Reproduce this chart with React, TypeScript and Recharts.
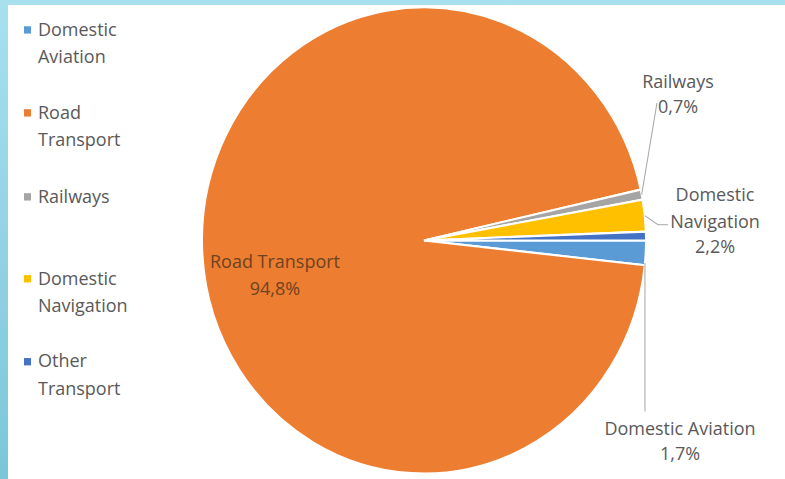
import { PieChart, Pie, Cell, Legend } from "recharts";

// transport emissions split, shares in %
const categories = ["Domestic Aviation", "Road Transport", "Railways", "Domestic Navigation", "Other Transport"];
const shares = [1.7, 94.8, 0.7, 2.2, 0.6];
const colors = ["#5B9BD5", "#ED7D31", "#A5A5A5", "#FFC000", "#4472C4"];

const data = categories.map((name, i) => ({ name, value: shares[i] }));

const FONT = "'Open Sans', sans-serif";
const GREY_TEXT = "#595959";

// label placement relative to the pie centre (Excel-style manual positions)
const labelSpots: Record<string, { dx: number; dy: number[]; split: boolean; leader?: number[][] }> = {
  "Road Transport": { dx: -149, dy: [26, 52], split: false },
  Railways: { dx: 254, dy: [-145, -121], split: false, leader: [[233, -131]] },
  "Domestic Navigation": { dx: 291, dy: [-38, -12, 12], split: true, leader: [[234, -15], [244, -15]] },
  "Domestic Aviation": { dx: 256, dy: [185, 209], split: false, leader: [[0, 163]] },
};

// legend first-line baselines
const legendBaselines = [34, 113, 193, 271, 350];

const RAD = Math.PI / 180;
const pct = (v: number) => v.toFixed(1).replace(".", ",") + "%";

const renderLabel = (props: any) => {
  const { cx, cy, midAngle, outerRadius, name, value } = props;
  const spot = labelSpots[name];
  if (!spot) return null;
  const lines = spot.split ? [...name.split(" "), pct(value)] : [name, pct(value)];
  const inside = name === "Road Transport";
  let leader = null;
  if (spot.leader) {
    const a = name === "Domestic Aviation" ? midAngle - 2.5 : midAngle;
    const sx = cx + outerRadius * Math.cos(a * RAD);
    const sy = cy - outerRadius * Math.sin(a * RAD);
    const pts = [[sx, sy]].concat(
      spot.leader.map(([x, y]) => [name === "Domestic Aviation" ? sx : cx + x, cy + y])
    );
    leader = (
      <polyline points={pts.map((p) => p.join(",")).join(" ")} fill="none" stroke="#A6A6A6" strokeWidth={1} />
    );
  }
  return (
    <g>
      {leader}
      <text x={cx + spot.dx} textAnchor="middle" fontFamily={FONT} fontSize={18} fill={inside ? "#6E4320" : GREY_TEXT}>
        {lines.map((l, i) => (
          <tspan key={i} x={cx + spot.dx} y={cy + spot.dy[i]}>
            {l}
          </tspan>
        ))}
      </text>
    </g>
  );
};

const LegendBox = (props: any) => {
  const given: any[] = props.payload || [];
  // keep the series order of the data, whatever order recharts hands over
  const payload = categories.map((c, i) => {
    const hit = given.find((p) => p.value === c);
    return { value: c, color: hit ? hit.color : colors[i] };
  });
  return (
    <svg width={200} height={456}>
      {payload.map((p, i) => {
        const words = p.value.split(" ");
        const y = legendBaselines[i];
        return (
          <g key={p.value}>
            <rect x={24} y={y - 9} width={7} height={7} fill={p.color} />
            <text x={38} fontFamily={FONT} fontSize={18} fill={GREY_TEXT}>
              {words.map((w, j) => (
                <tspan key={j} x={38} y={y + j * 26}>
                  {w}
                </tspan>
              ))}
            </text>
          </g>
        );
      })}
    </svg>
  );
};

export default function App() {
  return (
    <div
      style={{
        position: "relative",
        width: 785,
        height: 479,
        overflow: "hidden",
        background: "linear-gradient(#a8e0ef, #7cc6da)",
      }}
    >
      <style>{`body{margin:0}`}</style>
      <div style={{ position: "absolute", left: 8, top: 5, right: 0, bottom: 0, background: "#fff" }} />
      <div style={{ position: "absolute", left: 0, top: 0, transform: "scaleY(1.05)", transformOrigin: "0 0" }}>
        <PieChart width={785} height={456} margin={{ top: 0, right: 0, bottom: 0, left: 0 }}>
          <Pie
            data={data}
            dataKey="value"
            nameKey="name"
            cx={424}
            cy={229}
            outerRadius={222}
            startAngle={0}
            endAngle={-360}
            stroke="#fff"
            strokeWidth={2}
            label={renderLabel}
            labelLine={false}
            isAnimationActive={false}
          >
            {data.map((d, i) => (
              <Cell key={d.name} fill={colors[i]} />
            ))}
          </Pie>
          <Legend
            layout="horizontal"
            verticalAlign="middle"
            align="center"
            content={<LegendBox />}
            wrapperStyle={{ left: 0, top: 0, width: 200, height: 456 }}
          />
        </PieChart>
      </div>
    </div>
  );
}
